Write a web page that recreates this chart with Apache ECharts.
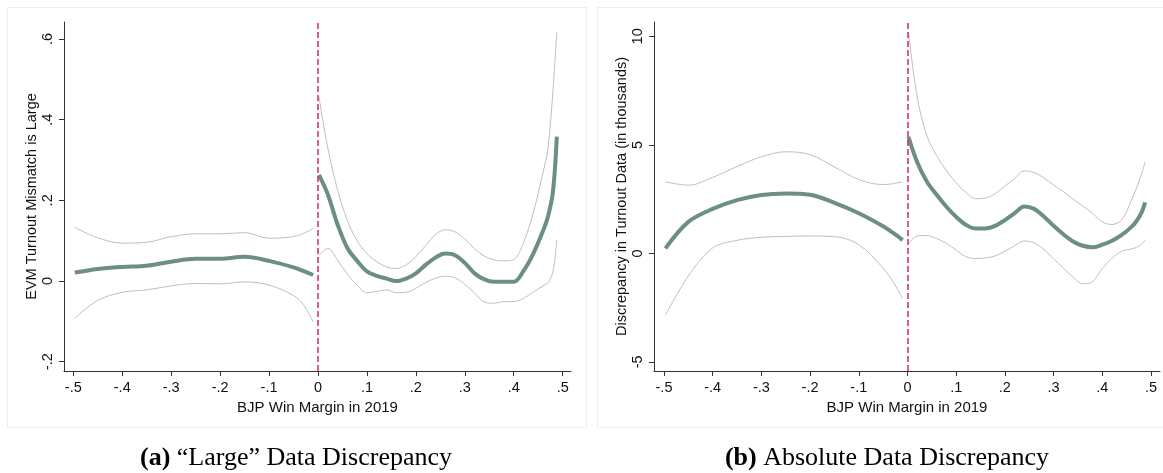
<!DOCTYPE html>
<html>
<head>
<meta charset="utf-8">
<script src="https://cdn.jsdelivr.net/npm/echarts@6/dist/echarts.min.js"></script>
<style>
  html, body { margin: 0; padding: 0; background: #fff; }
  #chart { width: 1163px; height: 473px; }
</style>
</head>
<body>
<div id="chart"></div>
<script>
// x grids (BJP win margin)
const xLeft = [-0.497, -0.45, -0.4, -0.35, -0.3, -0.25, -0.2, -0.15, -0.1, -0.05, -0.03, -0.01]
const xRight = [0.002, 0.02, 0.04, 0.06, 0.08, 0.10, 0.12, 0.14, 0.16, 0.18, 0.20, 0.22, 0.24, 0.26,
  0.28, 0.30, 0.32, 0.34, 0.36, 0.38, 0.40, 0.42, 0.44, 0.46, 0.47, 0.48, 0.488]

// (a) "Large" data discrepancy
const aFitLeft = [0.021, 0.030, 0.035, 0.038, 0.048, 0.055, 0.055, 0.060, 0.050, 0.034, 0.025, 0.015]
const aHiLeft = [0.133, 0.107, 0.094, 0.096, 0.110, 0.117, 0.117, 0.120, 0.106, 0.110, 0.118, 0.130]
const aLoLeft = [-0.092, -0.048, -0.028, -0.022, -0.012, -0.006, -0.007, -0.002, -0.010, -0.036, -0.058, -0.101]
const aFitRight = [0.263, 0.215, 0.140, 0.082, 0.050, 0.024, 0.013, 0.006, 0.000, 0.006, 0.019, 0.040, 0.058, 0.068,
  0.064, 0.045, 0.019, 0.004, -0.002, -0.002, -0.002, 0.025, 0.068, 0.125, 0.160, 0.220, 0.358]
const aHiRight = [0.457, 0.330, 0.226, 0.150, 0.100, 0.068, 0.048, 0.035, 0.031, 0.040, 0.060, 0.088, 0.115, 0.127,
  0.122, 0.104, 0.080, 0.062, 0.052, 0.050, 0.053, 0.095, 0.170, 0.270, 0.330, 0.470, 0.618]
const aLoRight = [0.064, 0.081, 0.052, 0.017, -0.010, -0.029, -0.026, -0.022, -0.029, -0.028, -0.018, -0.004, 0.007, 0.012,
  0.008, -0.008, -0.030, -0.052, -0.055, -0.051, -0.051, -0.043, -0.027, -0.012, -0.004, 0.022, 0.102]

// (b) absolute data discrepancy (thousands)
const bFitLeft = [0.23, 1.45, 2.05, 2.45, 2.69, 2.76, 2.70, 2.33, 1.85, 1.25, 0.95, 0.61]
const bHiLeft = [3.30, 3.14, 3.50, 4.00, 4.45, 4.68, 4.55, 3.98, 3.40, 3.17, 3.21, 3.30]
const bLoLeft = [-2.84, -1.05, 0.25, 0.60, 0.74, 0.78, 0.80, 0.77, 0.40, -0.68, -1.30, -2.07]
const bFitRight = [5.37, 4.20, 3.30, 2.70, 2.15, 1.68, 1.32, 1.14, 1.15, 1.27, 1.53, 1.85, 2.16, 2.05,
  1.70, 1.27, 0.88, 0.55, 0.35, 0.28, 0.40, 0.58, 0.85, 1.22, 1.48, 1.85, 2.35]
const bHiRight = [10.21, 7.20, 5.40, 4.50, 3.80, 3.25, 2.80, 2.52, 2.55, 2.75, 3.10, 3.45, 3.80, 3.72,
  3.48, 3.15, 2.84, 2.50, 2.18, 1.85, 1.45, 1.33, 1.55, 2.45, 3.00, 3.60, 4.22]
const bLoRight = [0.46, 0.80, 0.82, 0.68, 0.46, 0.15, -0.15, -0.24, -0.21, -0.12, 0.10, 0.35, 0.57, 0.48,
  0.18, -0.25, -0.68, -1.10, -1.40, -1.30, -0.70, -0.22, 0.10, 0.20, 0.28, 0.40, 0.61]

// tick labels
const xTicks = [-0.5, -0.4, -0.3, -0.2, -0.1, 0, 0.1, 0.2, 0.3, 0.4, 0.5]
const aYTicks = [-0.2, 0, 0.2, 0.4, 0.6]
const bYTicks = [-5, 0, 5, 10]

const sans = 'Liberation Sans'
const axisColor = '#333'
const fitColor = '#6b8f81'
const ciColor = '#bfbfbf'

function dotFmt(v) {
    const s = String(Math.round(v * 10) / 10)
    return s.replace('0.', '.')
}

function pairs(xs, ys) {
    return xs.map((x, i) => [x, ys[i]])
}

function xAxisFor(gridIndex, min, max) {
    return {
        type: 'value',
        gridIndex: gridIndex,
        min: min,
        max: max,
        name: 'BJP Win Margin in 2019',
        nameLocation: 'middle',
        nameGap: 25,
        nameTextStyle: { fontFamily: sans, fontSize: 15, color: '#111' },
        axisLine: { show: true, onZero: false, lineStyle: { color: axisColor, width: 1 } },
        axisTick: { show: true, length: 5, customValues: xTicks, lineStyle: { color: axisColor } },
        axisLabel: {
            customValues: xTicks,
            formatter: dotFmt,
            margin: 9,
            fontFamily: sans,
            fontSize: 14.5,
            color: '#111'
        },
        splitLine: { show: false }
    }
}

function yAxisFor(gridIndex, min, max, ticks, name, fmt) {
    return {
        type: 'value',
        gridIndex: gridIndex,
        min: min,
        max: max,
        name: name,
        nameLocation: 'middle',
        nameGap: 25,
        nameTextStyle: { fontFamily: sans, fontSize: 14.5, color: '#111' },
        axisLine: { show: true, onZero: false, lineStyle: { color: axisColor, width: 1 } },
        axisTick: { show: true, length: 5, customValues: ticks, lineStyle: { color: axisColor } },
        axisLabel: {
            customValues: ticks,
            formatter: fmt,
            rotate: 90,
            margin: 9,
            fontFamily: sans,
            fontSize: 14.5,
            color: '#111'
        },
        splitLine: { show: false }
    }
}

function line(idx, xs, ys, isFit) {
    return {
        type: 'line',
        xAxisIndex: idx,
        yAxisIndex: idx,
        data: pairs(xs, ys),
        showSymbol: false,
        smooth: 0.35,
        silent: true,
        lineStyle: { color: isFit ? fitColor : ciColor, width: isFit ? 4 : 1 },
        z: isFit ? 3 : 2
    }
}

function cutoff(idx) {
    return {
        type: 'line',
        xAxisIndex: idx,
        yAxisIndex: idx,
        data: [],
        markLine: {
            silent: true,
            symbol: 'none',
            label: { show: false },
            lineStyle: { color: '#d62a50', width: 1.5, type: [6, 3] },
            data: [{ xAxis: 0 }]
        },
        z: 4
    }
}

const myChart = echarts.init(document.getElementById('chart'))
const option = {
    backgroundColor: '#fff',
    animation: false,
    grid: [
        { left: 64, top: 22, width: 507, height: 349 },
        { left: 654, top: 22, width: 506, height: 349 }
    ],
    xAxis: [xAxisFor(0, -0.519, 0.517), xAxisFor(1, -0.5205, 0.5185)],
    yAxis: [
        yAxisFor(0, -0.223, 0.642, aYTicks, 'EVM Turnout Mismatch is Large', dotFmt),
        yAxisFor(1, -5.42, 10.66, bYTicks, 'Discrepancy in Turnout Data (in thousands)', v => String(Math.round(v)))
    ],
    series: [
        line(0, xLeft, aHiLeft, false),
        line(0, xLeft, aLoLeft, false),
        line(0, xLeft, aFitLeft, true),
        line(0, xRight, aHiRight, false),
        line(0, xRight, aLoRight, false),
        line(0, xRight, aFitRight, true),
        cutoff(0),
        line(1, xLeft, bHiLeft, false),
        line(1, xLeft, bLoLeft, false),
        line(1, xLeft, bFitLeft, true),
        line(1, xRight, bHiRight, false),
        line(1, xRight, bLoRight, false),
        line(1, xRight, bFitRight, true),
        cutoff(1)
    ],
    graphic: [
        { type: 'rect', shape: { x: 7.5, y: 7.5, width: 579, height: 420 }, style: { fill: 'none', stroke: '#ededed', lineWidth: 1 }, silent: true },
        { type: 'rect', shape: { x: 597.5, y: 7.5, width: 580, height: 420 }, style: { fill: 'none', stroke: '#ededed', lineWidth: 1 }, silent: true },
        {
            type: 'text',
            x: 296,
            y: 458,
            style: {
                text: '{b|(a)} “Large” Data Discrepancy',
                textAlign: 'center',
                textVerticalAlign: 'middle',
                fontFamily: 'Liberation Serif',
                fontSize: 26,
                fill: '#000',
                rich: { b: { fontFamily: 'Liberation Serif', fontSize: 26, fontWeight: 'bold' } }
            }
        },
        {
            type: 'text',
            x: 887,
            y: 458,
            style: {
                text: '{b|(b)} Absolute Data Discrepancy',
                textAlign: 'center',
                textVerticalAlign: 'middle',
                fontFamily: 'Liberation Serif',
                fontSize: 26,
                fill: '#000',
                rich: { b: { fontFamily: 'Liberation Serif', fontSize: 26, fontWeight: 'bold' } }
            }
        }
    ]
}
myChart.setOption(option)
</script>
</body>
</html>
